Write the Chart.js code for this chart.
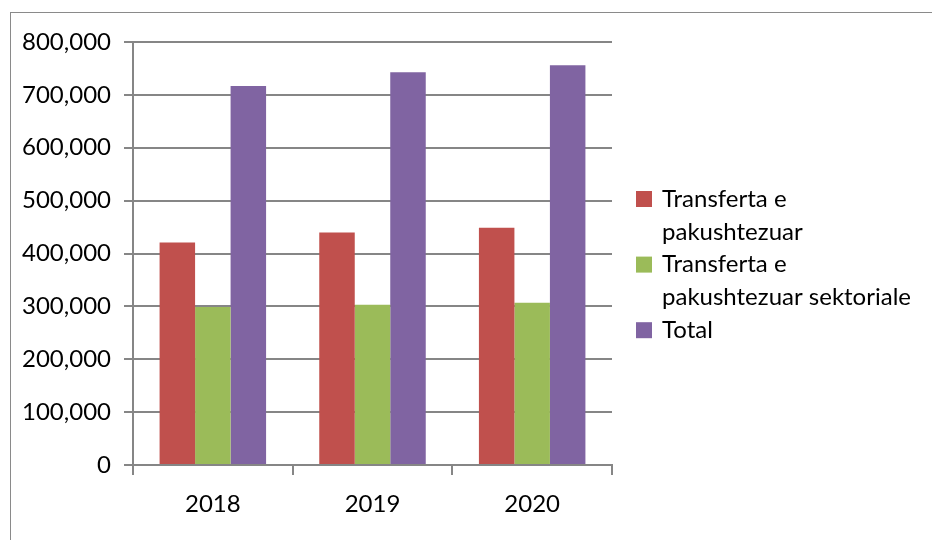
<!DOCTYPE html>
<html>
<head>
<meta charset="utf-8">
<script src="https://cdn.jsdelivr.net/npm/chart.js@4.4.1/dist/chart.umd.min.js"></script>
<style>
  html, body { margin: 0; padding: 0; background: #fff; }
  #wrap { width: 932px; height: 540px; }
</style>
</head>
<body>
<div id="wrap"><canvas id="budgetChart" width="932" height="540"></canvas></div>
<script>
const years = ['2018', '2019', '2020'];
const unconditional = [420800, 439600, 448500];
const sectoral = [299000, 303200, 307000];
const totals = [717000, 742800, 756000];
const seriesNames = [
  ['Transferta e', 'pakushtezuar'],
  ['Transferta e', 'pakushtezuar sektoriale'],
  ['Total']
];
const yTicks = { min: 0, max: 800000, step: 100000 };

const axisGray = '#868686';
const font = { family: 'Lato', size: 24 };

// frame around the whole chart, like the office export
const framePlugin = {
  id: 'frame',
  beforeDraw(chart) {
    const c = chart.ctx;
    c.save();
    c.strokeStyle = '#8a8a8a';
    c.lineWidth = 1;
    c.strokeRect(10.5, 12.5, chart.width, chart.height);
    c.restore();
  }
};

// legend on the right, box aligned with the first line of each label
const sideLegend = {
  id: 'sideLegend',
  afterDraw(chart) {
    const c = chart.ctx;
    const x = chart.chartArea.right + 24;
    const lineH = 32.8;
    let y = 199;
    c.save();
    c.font = font.size + 'px ' + font.family;
    c.textBaseline = 'middle';
    c.textAlign = 'left';
    chart.data.datasets.forEach(ds => {
      c.fillStyle = ds.backgroundColor;
      c.fillRect(x, y - 8, 16, 16);
      c.fillStyle = '#000';
      ds.lines.forEach((t, i) => {
        c.fillText(t, x + 26, y + i * lineH);
      });
      y += ds.lines.length * lineH;
    });
    c.restore();
  }
};

const ctx = document.getElementById('budgetChart').getContext('2d');
const chart = new Chart(ctx, {
  type: 'bar',
  data: {
    labels: years,
    datasets: [
      { label: seriesNames[0].join(' '), lines: seriesNames[0], data: unconditional, backgroundColor: '#C0504D' },
      { label: seriesNames[1].join(' '), lines: seriesNames[1], data: sectoral, backgroundColor: '#9BBB59' },
      { label: seriesNames[2].join(' '), lines: seriesNames[2], data: totals, backgroundColor: '#8064A2' }
    ]
  },
  options: {
    responsive: false,
    animation: false,
    categoryPercentage: 0.667,
    barPercentage: 1.0,
    layout: { padding: { top: 42, left: 0, right: 320, bottom: 0 } },
    scales: {
      x: {
        grid: { display: true, drawOnChartArea: false, drawTicks: true, tickLength: 10, offset: true, color: axisGray, lineWidth: 2 },
        border: { display: true, color: axisGray, width: 2 },
        ticks: { color: '#000', font: font, padding: 15 },
        afterFit(s) { s.height = 75; s.paddingLeft = 0; s.paddingRight = 0; }
      },
      y: {
        min: yTicks.min,
        max: yTicks.max,
        grid: { color: axisGray, lineWidth: 2, tickLength: 9 },
        border: { display: true, color: axisGray, width: 2 },
        ticks: {
          stepSize: yTicks.step,
          color: '#000',
          font: font,
          padding: 13,
          callback: v => v.toLocaleString('en-US')
        },
        afterFit(s) { s.width = 133; s.paddingTop = 0; s.paddingBottom = 0; }
      }
    },
    plugins: {
      legend: { display: false },
      tooltip: { enabled: false }
    }
  },
  plugins: [framePlugin, sideLegend]
});
</script>
</body>
</html>
